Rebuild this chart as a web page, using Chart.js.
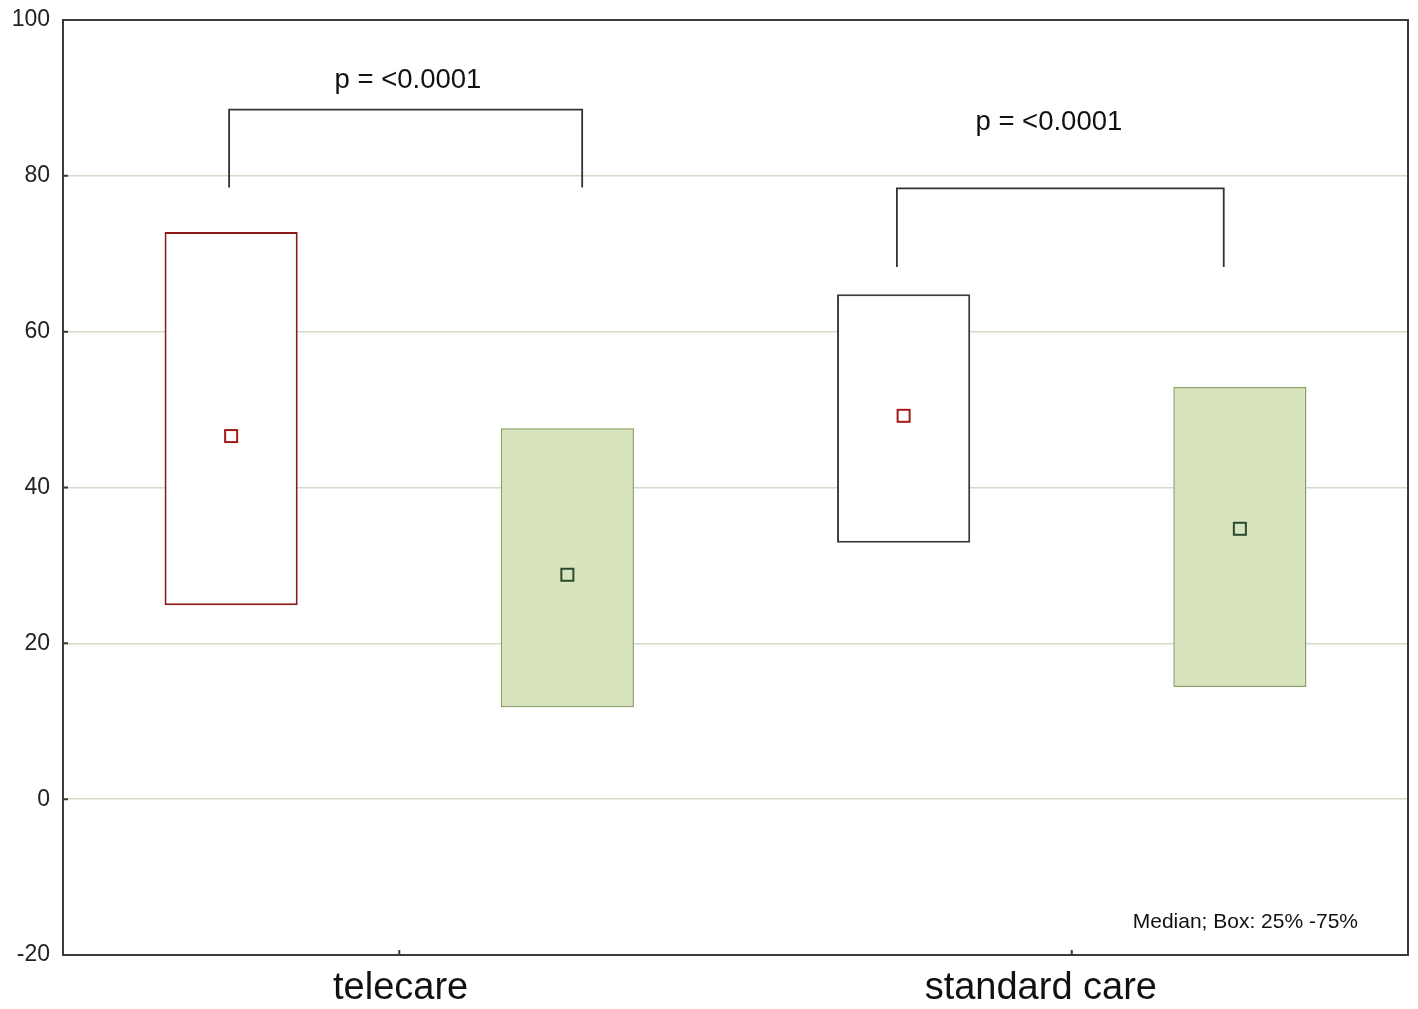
<!DOCTYPE html>
<html>
<head>
<meta charset="utf-8">
<script src="https://cdn.jsdelivr.net/npm/chart.js@4.4.1/dist/chart.umd.min.js"></script>
<style>
  html, body { margin: 0; padding: 0; background: #fff; }
  #wrap { width: 1418px; height: 1009px; }
</style>
</head>
<body>
<div id="wrap"><canvas id="boxChart"></canvas></div>
<script>
// data
const categories = ["telecare", "standard care"];
const firstLower = [24.9, 32.9];
const firstUpper = [72.8, 64.8];
const firstMedian = [46.6, 49.2];
const secondLower = [11.8, 14.4];
const secondUpper = [47.6, 52.9];
const secondMedian = [28.8, 34.7];
const yTicks = [-20, 0, 20, 40, 60, 80, 100];

// significance brackets (values on the y scale)
const bracketTop = [88.5, 78.4];
const bracketLeg = [78.5, 68.3];
const pText = ["p = <0.0001", "p = <0.0001"];
const pTextY = [91.3, 85.9];
const noteText = "Median; Box: 25% -75%";

const FONT = "'Liberation Sans', Arial, sans-serif";

// layout tweaks, as fractions of one category width
const bracketSpan = [[-0.253, 0.272], [-0.26, 0.226]];
const pTextShift = [0.013, -0.034];
const labelShift = [0.002, -0.046];

const boxPlugin = {
    id: "boxExtras",
    afterDatasetsDraw(chart) {
        const ctx = chart.ctx;
        const y = chart.scales.y;
        const x = chart.scales.x;
        const area = chart.chartArea;
        const catW = (area.right - area.left) / categories.length;

        // median squares at the bar centres
        const medians = [firstMedian, secondMedian];
        const styles = [
            { stroke: "#a31a1a", fill: "#ffffff" },
            { stroke: "#2c4a2c", fill: "#d7e4bd" },
        ];
        medians.forEach(function (med, di) {
            const meta = chart.getDatasetMeta(di);
            meta.data.forEach(function (bar, i) {
                const py = y.getPixelForValue(med[i]);
                ctx.save();
                ctx.fillStyle = styles[di].fill;
                ctx.strokeStyle = styles[di].stroke;
                ctx.lineWidth = 2;
                ctx.fillRect(bar.x - 6, py - 6, 12, 12);
                ctx.strokeRect(bar.x - 6, py - 6, 12, 12);
                ctx.restore();
            });
        });

        // brackets + p values
        categories.forEach(function (c, i) {
            const cx = x.getPixelForValue(i);
            const lx = cx + bracketSpan[i][0] * catW;
            const rx = cx + bracketSpan[i][1] * catW;
            const ty = y.getPixelForValue(bracketTop[i]);
            const by = y.getPixelForValue(bracketLeg[i]);
            ctx.save();
            ctx.strokeStyle = "#333";
            ctx.lineWidth = 1.8;
            ctx.beginPath();
            ctx.moveTo(lx, by);
            ctx.lineTo(lx, ty);
            ctx.lineTo(rx, ty);
            ctx.lineTo(rx, by);
            ctx.stroke();
            ctx.fillStyle = "#111";
            ctx.font = "27.5px " + FONT;
            ctx.textAlign = "center";
            ctx.textBaseline = "alphabetic";
            ctx.fillText(pText[i], cx + pTextShift[i] * catW, y.getPixelForValue(pTextY[i]));
            ctx.restore();
        });
    },
    afterDraw(chart) {
        const ctx = chart.ctx;
        const area = chart.chartArea;
        const y = chart.scales.y;
        const x = chart.scales.x;
        const catW = (area.right - area.left) / categories.length;
        ctx.save();
        // frame
        ctx.strokeStyle = "#3a3a3a";
        ctx.lineWidth = 2;
        ctx.strokeRect(area.left, area.top, area.right - area.left, area.bottom - area.top);
        // inner tick marks
        ctx.beginPath();
        yTicks.forEach(function (v) {
            const py = y.getPixelForValue(v);
            ctx.moveTo(area.left, py);
            ctx.lineTo(area.left + 5, py);
        });
        categories.forEach(function (c, i) {
            const px = x.getPixelForValue(i);
            ctx.moveTo(px, area.bottom);
            ctx.lineTo(px, area.bottom - 5);
        });
        ctx.stroke();
        // category labels
        ctx.fillStyle = "#111";
        ctx.font = "38px " + FONT;
        ctx.textAlign = "center";
        ctx.textBaseline = "alphabetic";
        categories.forEach(function (c, i) {
            ctx.fillText(c, x.getPixelForValue(i) + labelShift[i] * catW, area.bottom + 44);
        });
        // note
        ctx.font = "21px " + FONT;
        ctx.textAlign = "right";
        ctx.fillText(noteText, area.right - 50, area.bottom - 27);
        ctx.restore();
    },
};

document.addEventListener("DOMContentLoaded", function () {
    const data = {
        labels: categories,
        datasets: [
            {
                label: "first",
                data: firstLower.map((v, i) => [v, firstUpper[i]]),
                backgroundColor: "#ffffff",
                borderColor: ["#8b1a1a", "#3a3a3a"],
                borderWidth: 2,
                borderSkipped: false,
            },
            {
                label: "second",
                data: secondLower.map((v, i) => [v, secondUpper[i]]),
                backgroundColor: "#d7e4bd",
                borderColor: "#8aa060",
                borderWidth: 1.5,
                borderSkipped: false,
            },
        ],
    };

    const config = {
        type: "bar",
        data: data,
        plugins: [boxPlugin],
        options: {
            responsive: true,
            maintainAspectRatio: false,
            animation: false,
            categoryPercentage: 1.0,
            barPercentage: 0.396,
            layout: { padding: { top: 20, right: 10, left: 0, bottom: 0 } },
            plugins: {
                legend: { display: false },
                tooltip: { enabled: false },
            },
            scales: {
                x: {
                    grid: { display: false, drawTicks: false },
                    border: { display: false },
                    ticks: { display: false },
                    afterFit(axis) { axis.height = 54; },
                },
                y: {
                    min: -20,
                    max: 100,
                    afterBuildTicks(axis) {
                        axis.ticks = yTicks.map((v) => ({ value: v }));
                    },
                    grid: { color: "#d2dcc8", lineWidth: 1.5, drawTicks: false },
                    border: { display: false },
                    ticks: {
                        color: "#222",
                        font: { family: FONT, size: 23 },
                        padding: 13,
                    },
                    afterFit(axis) {
                        axis.width = 63;
                        axis.paddingTop = 0;
                        axis.paddingBottom = 0;
                    },
                },
            },
        },
    };

    const el = document.getElementById("boxChart");
    if (el) {
        new Chart(el, config);
    }
});
</script>
</body>
</html>
